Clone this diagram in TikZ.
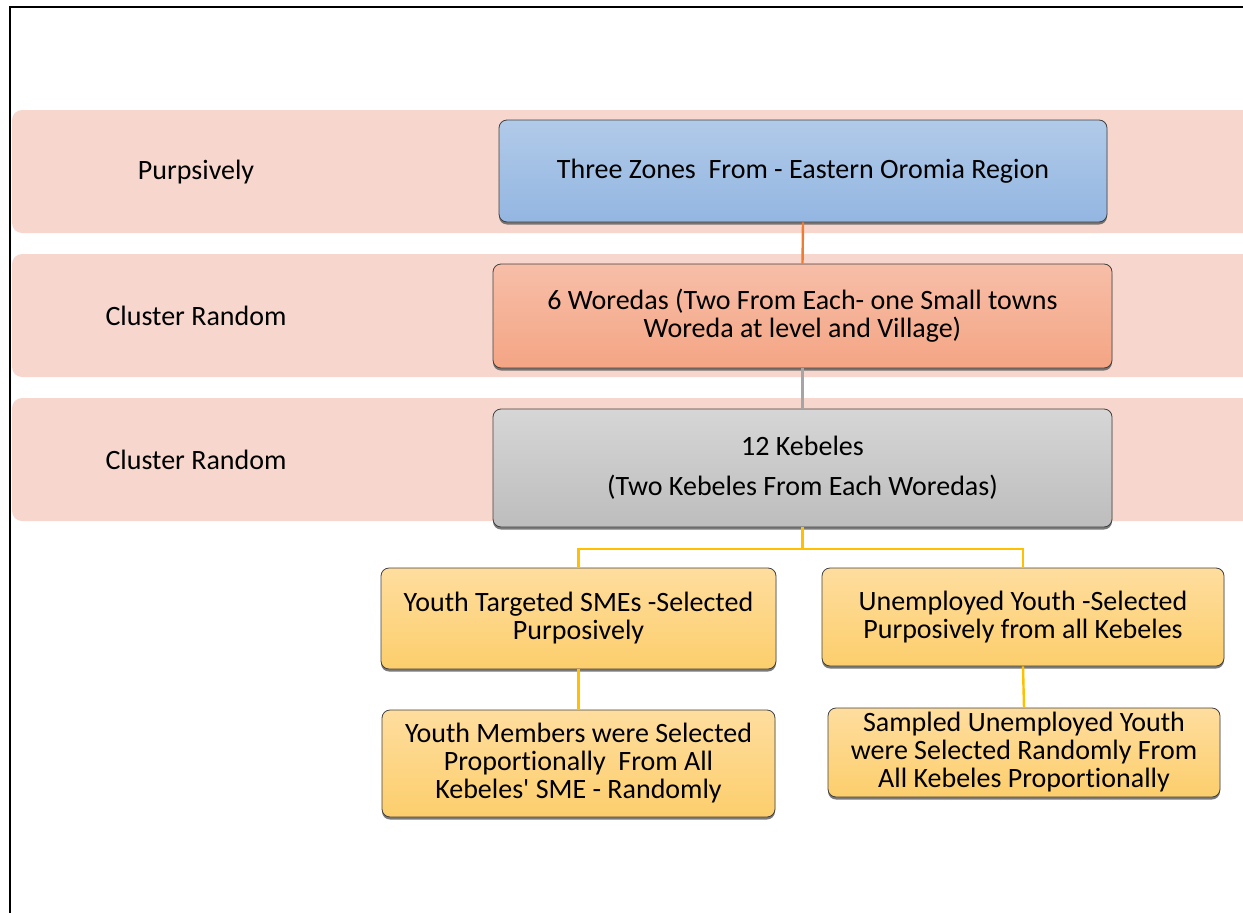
\documentclass[tikz,border=0pt]{standalone}
\usepackage{fontspec}
\setmainfont[Ligatures={TeX,NoCommon}]{Carlito}
\usetikzlibrary{shadows}
\definecolor{bandc}{HTML}{F7D7CD}
\definecolor{blueT}{HTML}{B1CAE9}
\definecolor{blueB}{HTML}{93B6E1}
\definecolor{oraT}{HTML}{F7BEA8}
\definecolor{oraB}{HTML}{F4A584}
\definecolor{grayT}{HTML}{D6D6D6}
\definecolor{grayB}{HTML}{BDBDBD}
\definecolor{yelT}{HTML}{FEDD9E}
\definecolor{yelB}{HTML}{FCCE6C}
\definecolor{lnOra}{HTML}{ED7D31}
\definecolor{lnGray}{HTML}{A5A5A5}
\definecolor{lnYel}{HTML}{FFC000}
\definecolor{edge}{HTML}{404040}
\begin{document}
\begin{tikzpicture}[x=1pt,y=-1pt,
  band/.style={fill=bandc, draw=none, rounded corners=10pt},
  lvl/.style={font=\fontsize{28}{30}\selectfont, text=black, anchor=center},
  box/.style={draw=edge, line width=0.8pt, rounded corners=8pt, align=center,
    inner sep=0pt, font=\fontsize{28}{28}\selectfont,
    drop shadow={shadow xshift=0pt, shadow yshift=-2.5pt, fill=black!65, opacity=0.8}},
  bluebox/.style={box, top color=blueT, bottom color=blueB},
  orabox/.style={box, top color=oraT, bottom color=oraB},
  graybox/.style={box, top color=grayT, bottom color=grayB},
  yelbox/.style={box, top color=yelT, bottom color=yelB},
  conn/.style={line width=2.4pt}
]
\useasboundingbox (0,0) rectangle (1243,913);
% frame
\draw[line width=2pt, black] (10,913) -- (10,7) -- (1260,7);
% bands
\fill[band] (12,110) rectangle (1265,233);
\fill[band] (12,254) rectangle (1265,377);
\fill[band] (12,398) rectangle (1265,521);
% level labels
\node[lvl] (l1) at (196,172) {Purpsively};
\node[lvl] (l2) at (196,316) {Cluster Random};
\node[lvl] (l3) at (196,460) {Cluster Random};
% boxes
\node[bluebox, minimum width=608pt, minimum height=102pt] (z) at (803,171) {Three Zones\ \ From - Eastern Oromia Region};
\node[orabox, minimum width=619pt, minimum height=104pt] (w) at (802.5,316) {6 Woredas (Two From Each- one Small towns\\Woreda at level and Village)};
\node[graybox, minimum width=619pt, minimum height=118pt, font=\fontsize{28}{40}\selectfont] (k) at (802.5,468) {12 Kebeles\\(Two Kebeles From Each Woredas)};
\node[yelbox, minimum width=395pt, minimum height=101pt] (sme) at (578.5,618.5) {Youth Targeted SMEs -Selected\\Purposively};
\node[yelbox, minimum width=402pt, minimum height=98pt] (uy) at (1023,617) {Unemployed Youth -Selected\\Purposively from all Kebeles};
\node[yelbox, minimum width=393pt, minimum height=107pt] (ym) at (578.5,763.5) {Youth Members were Selected\\Proportionally\ \ From All\\Kebeles\textquotesingle{} SME - Randomly};
\node[yelbox, minimum width=392pt, minimum height=89pt] (su) at (1024,752.5) {Sampled Unemployed Youth\\were Selected Randomly From\\All Kebeles Proportionally};
% connectors
\draw[conn, lnOra] (z.south) -- (w.north);
\draw[conn, lnGray] (w.south) -- (k.north);
\coordinate (jn) at (802.5,549);
\draw[conn, lnYel] (k.south) -- (jn);
\draw[conn, lnYel] (sme.north) |- (jn) -| (uy.north);
\draw[conn, lnYel] (sme.south) -- (ym.north);
\draw[conn, lnYel] (uy.south) -- (su.north);
\end{tikzpicture}
\end{document}
